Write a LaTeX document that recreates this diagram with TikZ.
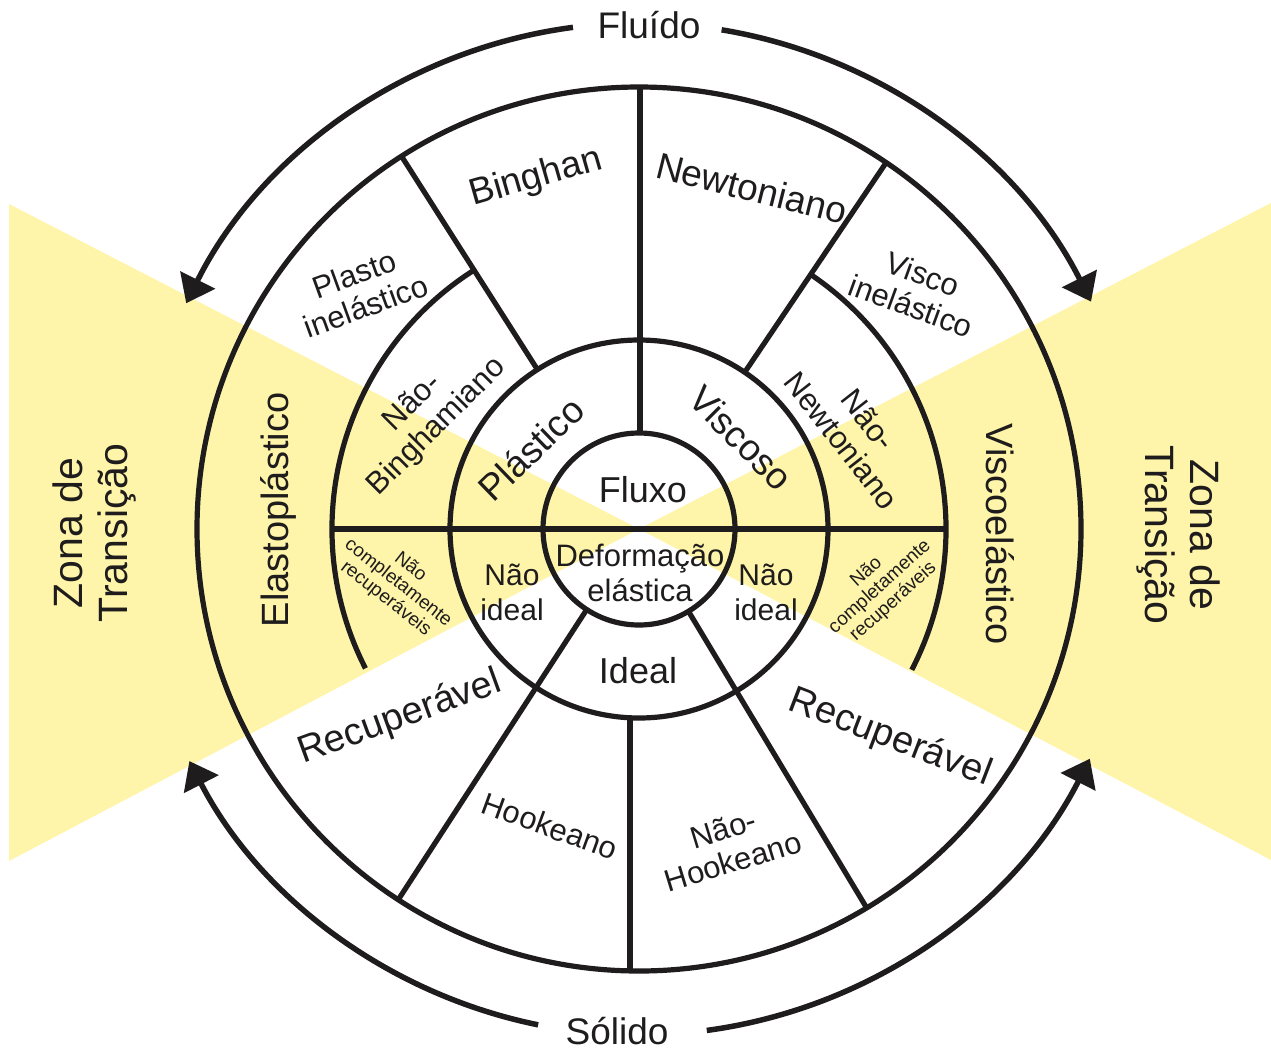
\documentclass[tikz,border=0pt]{standalone}
\usepackage{fontspec}
\setmainfont{Liberation Sans}
\usetikzlibrary{calc,arrows.meta}
\definecolor{zonefill}{RGB}{255,245,170}
\definecolor{ink}{RGB}{30,28,28}
\newcommand\fsz[2]{\fontsize{#1}{#2}\selectfont}
\begin{document}
\begin{tikzpicture}[x=1pt,y=1pt,
  ring/.style={draw=ink, line width=5.2pt},
  arrowarc/.style={draw=ink, line width=5.5pt, -{Triangle[length=26pt,width=38pt]}},
  lbl/.style={text=ink, inner sep=0pt, align=center}]
\useasboundingbox (0,-1050) rectangle (1271,0);
\fill[white] (0,-1050) rectangle (1271,0);
\coordinate (C) at (639,-529);
% transition zones
\fill[zonefill] (9,-204) -- (C) -- (9,-861) -- cycle;
\fill[zonefill] (1271,-203) -- (C) -- (1271,-860) -- cycle;
% rings
\draw[ring] (C) circle[radius=96];
\draw[ring] (C) circle[radius=189];
\draw[ring] (C) circle[radius=442];
\draw[ring] ($(C)+(122.5:307)$) arc[start angle=122.5, end angle=207, radius=307];
\draw[ring] ($(C)+(56:307)$) arc[start angle=56, end angle=-27.3, radius=307];
% dividers
\draw[ring] (640,-433) -- (640,-87);
\draw[ring] (630,-718) -- (630,-971);
\draw[ring] ($(C)+(180:307)$) -- ($(C)+(0:307)$);
\draw[ring] ($(C)+(122.5:189)$) -- ($(C)+(122.5:442)$);
\draw[ring] ($(C)+(56:189)$) -- ($(C)+(56:442)$);
\draw[ring] ($(C)+(-123:96)$) -- ($(C)+(-123:442)$);
\draw[ring] ($(C)+(-59:96)$) -- ($(C)+(-59:442)$);
% arrows
\coordinate (fl) at ($(C)+(97.5:506)$);
\coordinate (fr) at ($(C)+(80.6:506)$);
\coordinate (sl) at ($(C)+(-101.5:506)$);
\coordinate (sr) at ($(C)+(-82.3:506)$);
\draw[arrowarc] (fl) arc[start angle=97.5, end angle=153.5, radius=506];
\draw[arrowarc] (fr) arc[start angle=80.6, end angle=26.7, radius=506];
\draw[arrowarc] (sl) arc[start angle=-101.5, end angle=-152.7, radius=506];
\draw[arrowarc] (sr) arc[start angle=-82.3, end angle=-27, radius=506];
% labels
\node[lbl, font=\fsz{37}{42}, anchor=base] (fluido) at (649,-38) {Fluído};
\node[lbl, font=\fsz{37}{42}, anchor=base] (solido) at (617,-1044) {Sólido};
\node[lbl, font=\fsz{41}{45}, rotate=90] (zl) at (94,-533) {Zona de\\Transição};
\node[lbl, font=\fsz{41}{45}, rotate=-90] (zr) at (1178,-535) {Zona de\\Transição};
\node[lbl, font=\fsz{38}{42}, rotate=90] (elasto) at (278,-510) {Elastoplástico};
\node[lbl, font=\fsz{38}{42}, rotate=-90] (viscoel) at (1000,-534) {Viscoelástico};
\node[lbl, font=\fsz{37}{42}, rotate=16] (bing) at (536,-178) {Binghan};
\node[lbl, font=\fsz{37}{42}, rotate=-14] (newt) at (752,-188) {Newtoniano};
\node[lbl, font=\fsz{31}{34}, rotate=20] (plin) at (360,-290) {Plasto\\inelástico};
\node[lbl, font=\fsz{31}{34}, rotate=-20] (viin) at (917,-290) {Visco\\inelástico};
\node[lbl, font=\fsz{31}{34}, rotate=45] (nbing) at (425,-415) {Não-\\Binghamiano};
\node[lbl, font=\fsz{31}{34}, rotate=-52] (nnewt) at (855,-430) {Não-\\Newtoniano};
\node[lbl, font=\fsz{37}{42}, rotate=44] (plast) at (531,-449) {Plástico};
\node[lbl, font=\fsz{37}{42}, rotate=-45] (visc) at (741,-438) {Viscoso};
\node[lbl, font=\fsz{36}{40}, anchor=base] (fluxo) at (643,-502) {Fluxo};
\node[lbl, font=\fsz{31}{35}] (deform) at (640,-573) {Deformação\\elástica};
\node[lbl, font=\fsz{30}{35}] (nidl) at (512,-592) {Não\\ideal};
\node[lbl, font=\fsz{30}{35}] (nidr) at (766,-592) {Não\\ideal};
\node[lbl, font=\fsz{36}{40}, anchor=base] (ideal) at (638,-683) {Ideal};
\node[lbl, font=\fsz{19}{20}, rotate=-38] (ncrl) at (398,-583) {Não\\completamente\\recuperáveis};
\node[lbl, font=\fsz{19}{20}, rotate=42] (ncrr) at (880,-587) {Não\\completamente\\recuperáveis};
\node[lbl, font=\fsz{38}{42}, rotate=20] (recl) at (400,-718) {Recuperável};
\node[lbl, font=\fsz{38}{42}, rotate=-21] (recr) at (890,-738) {Recuperável};
\node[lbl, font=\fsz{31}{34}, rotate=-20] (hook) at (550,-826) {Hookeano};
\node[lbl, font=\fsz{31}{34}, rotate=17] (nhook) at (728,-845) {Não-\\Hookeano};
\end{tikzpicture}
\end{document}
